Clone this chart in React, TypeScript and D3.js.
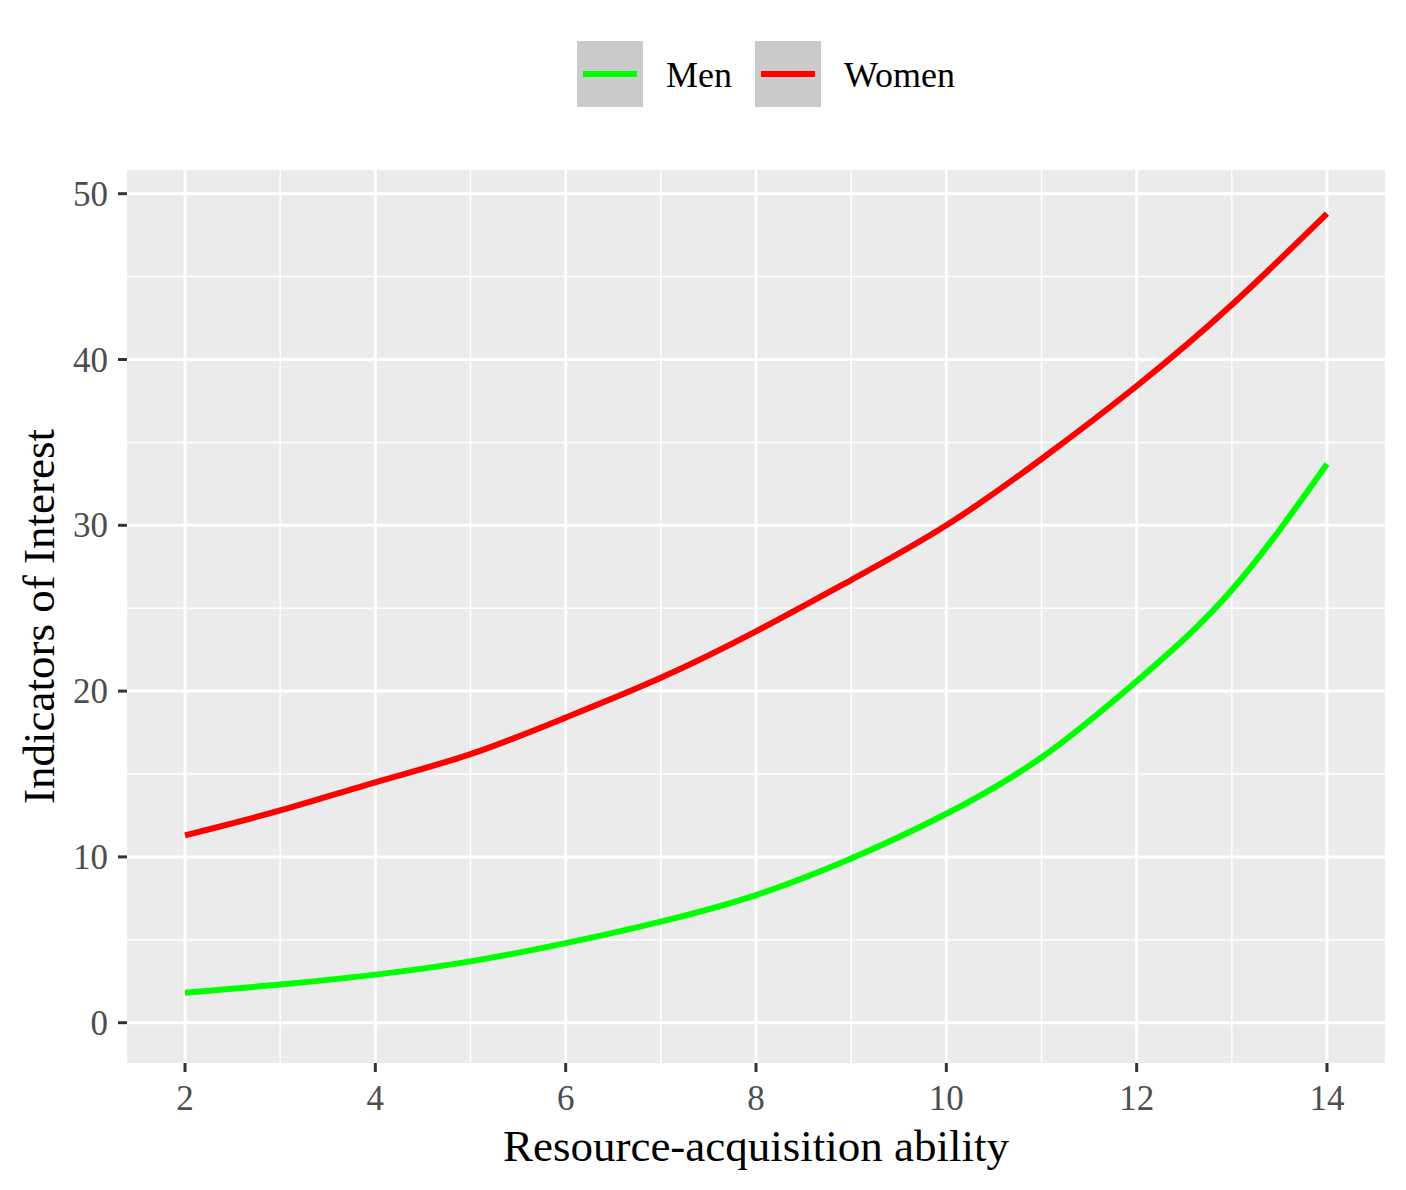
import React from "react";
import * as d3 from "d3";

const xValues = [2, 3, 4, 5, 6, 7, 8, 9, 10, 11, 12, 13, 14];
const menValues = [1.8, 2.3, 2.9, 3.7, 4.8, 6.1, 7.7, 9.9, 12.6, 16.0, 20.6, 26.1, 33.7];
const womenValues = [11.3, 12.8, 14.5, 16.2, 18.4, 20.8, 23.6, 26.7, 30.0, 34.0, 38.4, 43.3, 48.8];
const xTicks = [2, 4, 6, 8, 10, 12, 14];
const xMinor = [3, 5, 7, 9, 11, 13];
const yTicks = [0, 10, 20, 30, 40, 50];
const yMinor = [5, 15, 25, 35, 45];
const seriesNames = ["Men", "Women"];
const seriesColors = ["#00ff00", "#ff0000"];

const W = 1406, H = 1190;
const panel = { left: 127, right: 1385, top: 170, bottom: 1063 };
const FONT = "'Liberation Serif', 'Times New Roman', serif";

export default function App() {
  const x = d3.scaleLinear().domain([2, 14]).range([185, 1327]);
  const y = d3.scaleLinear().domain([0, 50]).range([1022.7, 193.7]);
  const line = d3
    .line<[number, number]>()
    .x((d) => x(d[0]))
    .y((d) => y(d[1]))
    .curve(d3.curveNatural);
  const series = [menValues, womenValues];

  return (
    <svg
      width={W}
      height={H}
      style={{ position: "absolute", left: 0, top: 0, background: "#fff" }}
      fontFamily={FONT}
    >
      <rect x={0} y={0} width={W} height={H} fill="#fff" />
      <rect
        x={panel.left}
        y={panel.top}
        width={panel.right - panel.left}
        height={panel.bottom - panel.top}
        fill="#ebebeb"
      />
      {yMinor.map((v) => (
        <line key={"ym" + v} x1={panel.left} x2={panel.right} y1={y(v)} y2={y(v)} stroke="#fff" strokeWidth={1.5} />
      ))}
      {xMinor.map((v) => (
        <line key={"xm" + v} x1={x(v)} x2={x(v)} y1={panel.top} y2={panel.bottom} stroke="#fff" strokeWidth={1.5} />
      ))}
      {yTicks.map((v) => (
        <line key={"yM" + v} x1={panel.left} x2={panel.right} y1={y(v)} y2={y(v)} stroke="#fff" strokeWidth={3} />
      ))}
      {xTicks.map((v) => (
        <line key={"xM" + v} x1={x(v)} x2={x(v)} y1={panel.top} y2={panel.bottom} stroke="#fff" strokeWidth={3} />
      ))}
      {series.map((vals, i) => (
        <path
          key={seriesNames[i]}
          d={line(xValues.map((xv, j) => [xv, vals[j]] as [number, number])) || ""}
          fill="none"
          stroke={seriesColors[i]}
          strokeWidth={6}
        />
      ))}
      {xTicks.map((v) => (
        <g key={"xt" + v}>
          <line x1={x(v)} x2={x(v)} y1={panel.bottom} y2={panel.bottom + 9} stroke="#333" strokeWidth={3} />
          <text x={x(v)} y={1110} textAnchor="middle" fontSize={35} fill="#4d4d4d">
            {v}
          </text>
        </g>
      ))}
      {yTicks.map((v) => (
        <g key={"yt" + v}>
          <line x1={panel.left - 9} x2={panel.left} y1={y(v)} y2={y(v)} stroke="#333" strokeWidth={3} />
          <text x={108} y={y(v) + 12} textAnchor="end" fontSize={35} fill="#4d4d4d">
            {v}
          </text>
        </g>
      ))}
      <text x={(panel.left + panel.right) / 2} y={1161} textAnchor="middle" fontSize={45} fill="#000">
        Resource-acquisition ability
      </text>
      <text
        transform={`translate(54, ${(panel.top + panel.bottom) / 2}) rotate(-90)`}
        textAnchor="middle"
        fontSize={45}
        fill="#000"
      >
        Indicators of Interest
      </text>
      {seriesNames.map((name, i) => {
        const bx = i === 0 ? 577 : 755;
        return (
          <g key={"lg" + name}>
            <rect x={bx} y={41} width={66} height={66} fill="#cbcbcb" />
            <line x1={bx + 6} x2={bx + 60} y1={74} y2={74} stroke={seriesColors[i]} strokeWidth={6} />
            <text x={bx + 89} y={87} fontSize={36} fill="#000">
              {name}
            </text>
          </g>
        );
      })}
    </svg>
  );
}
